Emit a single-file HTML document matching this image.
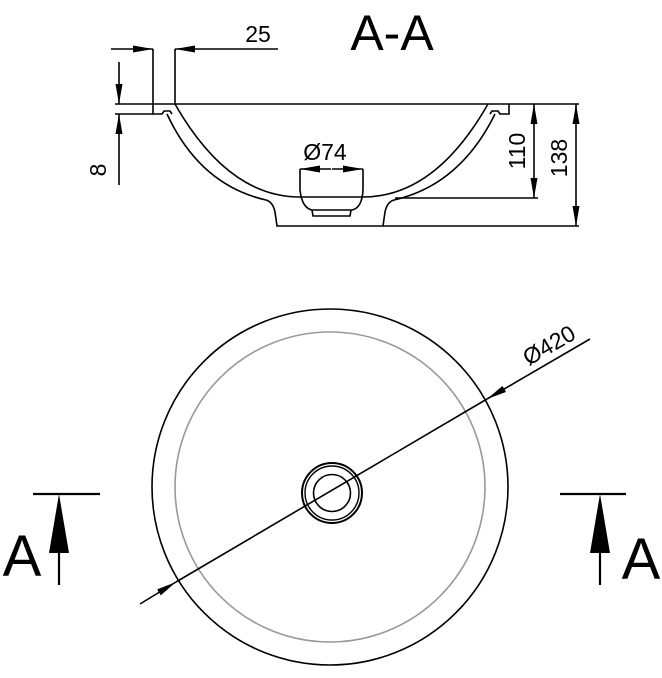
<!DOCTYPE html>
<html><head><meta charset="utf-8"><style>html,body{margin:0;padding:0;background:#fff}svg{display:block}</style></head>
<body>
<svg width="662" height="678" viewBox="0 0 662 678" xmlns="http://www.w3.org/2000/svg" font-family="Liberation Sans, sans-serif">
<defs>
<marker id="ar" viewBox="0 0 20 7" refX="20" refY="3.5" markerWidth="20" markerHeight="7" markerUnits="userSpaceOnUse" orient="auto"><path d="M0,0 L20,3.5 L0,7z" fill="#000"/></marker>
</defs>
<g stroke="#000" stroke-width="1.6" fill="none">
<line x1="153" y1="104" x2="579" y2="104"/>
<path d="M153,104 L153,114 L162,114 L164,111 L170,111 L172,114"/>
<path d="M509,104 L509,114 L500,114 L498,111 L492,111 L490,114"/>
<path d="M175,104 Q228,197 300,197 L363,197 Q435,197 488,104"/>
<path d="M167,114 Q200,185 266,200 Q273,202 275,212 L277,226 L383,226 L385,212 Q387,202 394,200 Q460,185 495,114"/>
<path d="M300,169 L300,190 Q302,208 312,210 L352,210 Q362,208 363,190 L363,169"/>
<path d="M312,210 L313,216 L350,216 L351,210"/>
<line x1="153" y1="49" x2="153" y2="104"/>
<line x1="175" y1="49" x2="175" y2="104"/>
<line x1="111" y1="49" x2="153" y2="49" marker-end="url(#ar)"/>
<line x1="278" y1="49" x2="175" y2="49" marker-end="url(#ar)"/>
<line x1="115" y1="104" x2="153" y2="104"/>
<line x1="115" y1="114" x2="153" y2="114"/>
<line x1="119" y1="62" x2="119" y2="104" marker-end="url(#ar)"/>
<line x1="119" y1="185" x2="119" y2="114" marker-end="url(#ar)"/>
<line x1="331" y1="169" x2="300" y2="169" marker-end="url(#ar)"/>
<line x1="332" y1="169" x2="363" y2="169" marker-end="url(#ar)"/>
<line x1="395" y1="198" x2="538" y2="198"/>
<line x1="383" y1="226" x2="579" y2="226"/>
<line x1="534" y1="150" x2="534" y2="104" marker-end="url(#ar)"/>
<line x1="534" y1="150" x2="534" y2="198" marker-end="url(#ar)"/>
<line x1="576" y1="165" x2="576" y2="104" marker-end="url(#ar)"/>
<line x1="576" y1="165" x2="576" y2="226" marker-end="url(#ar)"/>
<circle cx="330" cy="487" r="178"/>
<circle cx="330" cy="487" r="155" stroke="#999"/>
<circle cx="332" cy="493" r="30" stroke-width="2"/>
<circle cx="332" cy="493" r="27" stroke-width="1.4"/>
<circle cx="332" cy="493" r="18.5"/>
<line x1="140" y1="604" x2="176" y2="582" marker-end="url(#ar)"/>
<line x1="176" y1="582" x2="487" y2="399"/>
<line x1="590" y1="339" x2="487" y2="399" marker-end="url(#ar)"/>
<line x1="33" y1="494" x2="100" y2="494" stroke-width="2.2"/>
<line x1="59" y1="585" x2="59" y2="540" stroke-width="2.2"/>
<line x1="560" y1="494" x2="626" y2="494" stroke-width="2.2"/>
<line x1="600" y1="585" x2="600" y2="540" stroke-width="2.2"/>
</g>
<path d="M59,494 L69,553 L49,553z" fill="#000"/>
<path d="M600,494 L610,553 L590,553z" fill="#000"/>
<g fill="#000">
<text x="392" y="50" font-size="50" text-anchor="middle">A-A</text>
<text x="258" y="42" font-size="23" text-anchor="middle">25</text>
<text x="325" y="160" font-size="23" text-anchor="middle">Ø74</text>
<text transform="translate(106,170) rotate(-90)" font-size="23" text-anchor="middle">8</text>
<text transform="translate(525,151) rotate(-90)" font-size="23" text-anchor="middle">110</text>
<text transform="translate(567,158) rotate(-90)" font-size="23" text-anchor="middle">138</text>
<text transform="translate(553,352) rotate(-30)" font-size="23" text-anchor="middle">Ø420</text>
<text x="22" y="576" font-size="58" text-anchor="middle">A</text>
<text x="641" y="579" font-size="58" text-anchor="middle">A</text>
</g>
</svg>
</body></html>
